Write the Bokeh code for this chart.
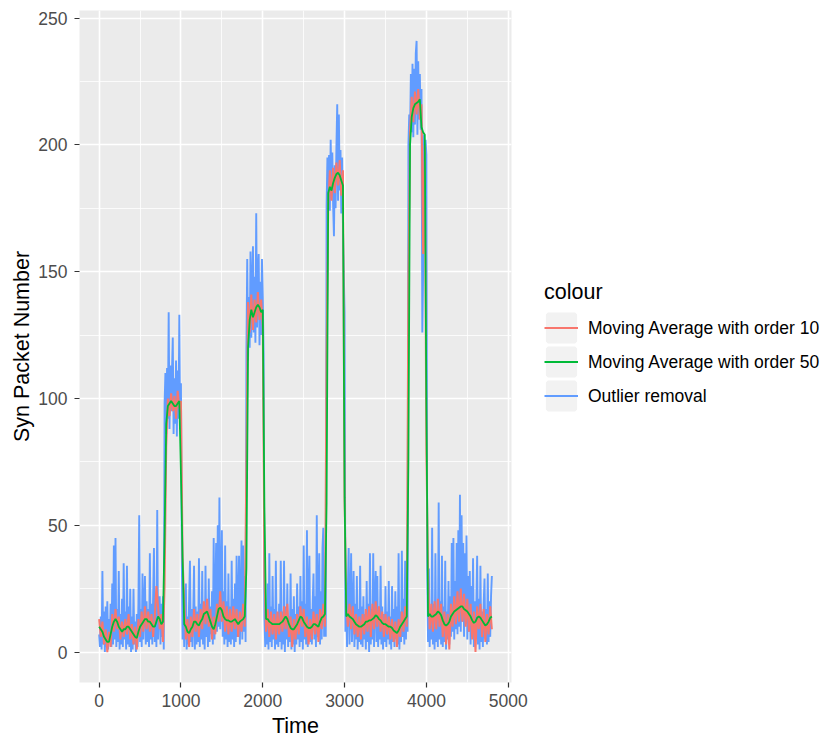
from bokeh.plotting import figure
from bokeh.models import Range1d, SingleIntervalTicker, Legend, LegendItem
from bokeh.embed import file_html
from bokeh.resources import INLINE

FONT = "Liberation Sans"

# Time stamps: filtered counts every 10 s, moving averages every 20 s
time_fine = list(range(0, 4801, 10))
time_ma = list(range(0, 4801, 20))

# SYN packet counts after outlier removal (one row = 200 s)
outlier_removal = [
    7, 2, 14, 1, 32, 3, 16, 0, 18, 2, 20, 1, 13, 4, 19, 2, 27, 3, 42, 5,
    45, 2, 17, 4, 32, 1, 15, 3, 21, 2, 35, 5, 16, 1, 34, 3, 18, 2, 25, 0,
    14, 1, 25, 3, 12, 0, 15, 2, 19, 54, 4, 17, 2, 31, 5, 18, 30, 3, 20, 4,
    17, 2, 39, 5, 19, 3, 22, 41, 4, 18, 2, 56, 5, 20, 22, 3, 19, 6, 22, 1,
    98, 110, 86, 112, 92, 134, 88, 113, 95, 110, 124, 86, 108, 90, 115, 85, 111, 92, 133, 88,
    106, 38, 5, 16, 2, 18, 27, 1, 14, 3, 21, 36, 4, 17, 2, 15, 34, 1, 18, 3,
    16, 4, 37, 2, 19, 5, 32, 3, 17, 1, 34, 6, 20, 2, 29, 4, 18, 7, 24, 3,
    45, 5, 22, 43, 8, 50, 10, 61, 9, 26, 48, 6, 24, 3, 42, 5, 20, 2, 31, 4,
    18, 3, 36, 5, 21, 2, 27, 4, 38, 6, 19, 38, 3, 22, 44, 5, 42, 8, 30, 4,
    118, 155, 115, 140, 120, 158, 124, 145, 160, 126, 148, 122, 173, 128, 150, 157, 121, 146, 125, 155,
    140, 118, 14, 2, 16, 3, 27, 1, 39, 4, 18, 2, 30, 5, 17, 1, 36, 3, 15, 2,
    19, 4, 36, 1, 16, 3, 36, 0, 18, 5, 27, 2, 14, 4, 31, 1, 17, 3, 22, 0,
    15, 3, 27, 5, 18, 2, 30, 4, 20, 1, 42, 5, 19, 3, 48, 2, 21, 38, 4, 17,
    3, 19, 31, 5, 22, 2, 54, 6, 20, 39, 3, 24, 5, 41, 49, 6, 26, 6, 176, 195,
    178, 196, 174, 202, 180, 197, 176, 164, 192, 175, 199, 216, 178, 212, 182, 198, 173, 195, 168, 150,
    134, 8, 20, 2, 25, 41, 3, 18, 39, 4, 16, 32, 2, 19, 5, 30, 1, 17, 4, 34,
    3, 18, 2, 22, 5, 15, 1, 28, 4, 19, 0, 39, 3, 17, 5, 39, 2, 20, 32, 4,
    30, 2, 17, 5, 34, 3, 18, 1, 15, 4, 26, 2, 16, 5, 28, 3, 14, 1, 26, 4,
    17, 2, 24, 5, 18, 3, 39, 1, 16, 4, 40, 6, 21, 3, 36, 5, 22, 8, 200, 212,
    203, 228, 205, 232, 203, 230, 208, 236, 241, 204, 233, 210, 228, 206, 222, 126, 150, 204, 196, 202,
    196, 32, 4, 33, 2, 17, 5, 49, 3, 19, 1, 39, 4, 16, 2, 59, 5, 20, 3, 38,
    2, 18, 4, 36, 1, 16, 5, 28, 3, 22, 6, 43, 8, 45, 5, 28, 9, 43, 7, 48,
    10, 62, 8, 54, 12, 43, 6, 39, 11, 46, 5, 30, 8, 32, 3, 26, 6, 37, 2, 20,
    5, 18, 38, 3, 21, 1, 34, 4, 16, 2, 19, 29, 5, 17, 3, 31, 4, 20, 6, 22,
    30,
]

# Moving average, order 10
ma_order_10 = [
    13, 6, 12, 3, 9, 0, 8, 2, 15, 8, 17, 9, 14, 5, 12, 6, 13, 7, 15, 5,
    11, 3, 10, 1, 13, 6, 16, 8, 18, 9, 16, 8, 15, 6, 14, 26, 18, 9, 15, 4,
    26, 81, 100, 93, 102, 95, 101, 92, 103, 96, 99,
    37, 20, 5, 13, 2, 14, 6, 17, 8, 15, 6, 17, 9, 20, 11, 21, 10, 17, 5, 14,
    7, 19, 12, 24, 12, 20, 8, 18, 7, 17, 8, 18, 9, 17, 6, 16, 8, 19, 10,
    76, 138, 126, 141, 127, 139, 130, 142, 131, 139, 128,
    30, 8, 17, 6, 16, 7, 15, 5, 16, 7, 16, 8, 18, 9, 19, 6, 14, 2, 13, 5,
    15, 7, 18, 10, 17, 6, 14, 3, 13, 5, 16, 7, 15, 4, 17, 9, 19, 10, 118,
    176, 190, 178, 191, 181, 193, 184, 194, 180, 190,
    60, 18, 10, 19, 9, 18, 7, 15, 6, 14, 5, 15, 7, 17, 8, 18, 6, 19, 9, 20,
    10, 18, 8, 16, 6, 15, 7, 14, 5, 13, 4, 12, 2, 13, 6, 16, 8, 18, 10, 147,
    205, 219, 209, 221, 212, 222, 210, 216, 157, 200, 78,
    30, 9, 19, 8, 20, 9, 21, 10, 19, 6, 16, 3, 15, 1, 19, 10, 22, 11, 24, 12,
    25, 12, 23, 10, 21, 8, 19, 5, 16, 0, 18, 9, 19, 6, 17, 4, 15, 7, 18, 9,
]

# Moving average, order 50
ma_order_50 = [
    10, 9, 8, 6, 5, 4, 4, 7, 10, 12, 13, 12, 10, 9, 8, 9, 9, 10, 10, 9,
    8, 7, 6, 5.5, 8, 10, 11, 12, 13, 13, 12, 12, 11, 10, 10, 12, 14, 13, 11, 12,
    46, 90, 97, 98, 99, 98, 97, 97, 98, 99, 70,
    37, 11, 10, 8, 7.5, 9, 10, 12, 12, 11, 10.5, 12, 13, 15, 15.5, 16, 14, 12, 10, 9,
    11, 14, 17, 17.5, 16.5, 14, 13, 12.5, 12.5, 12, 12, 12.5, 13, 12, 11, 12, 12.5, 13, 14,
    33, 120, 131, 135, 132, 134, 136, 137, 136, 134, 135,
    57, 13, 13, 12, 11.5, 11, 11, 11, 11, 11, 11.5, 12, 13, 14, 13, 11, 9.5, 9, 9, 10,
    11, 12.5, 14, 13.5, 12, 11, 10, 9.5, 9.5, 10, 11, 11, 10.5, 10, 12, 13.5, 14, 15, 59,
    181, 183.5, 182, 185, 187, 188.5, 189, 188, 186, 184,
    61, 14, 15, 14, 13.5, 13, 12, 11, 10.5, 10, 10, 10.5, 11, 12, 12, 12.5, 12.5, 13, 13.5, 14.5,
    14, 13, 12.5, 11.5, 11, 11, 10.5, 10, 10, 9.5, 8.5, 8, 7.5, 8.5, 10, 11, 12, 13, 14, 76,
    200, 211, 214.5, 216, 216.5, 217, 218, 207, 205, 204, 96,
    14, 15, 14, 14, 14.5, 15, 16, 15.5, 14.5, 12.5, 11, 10.5, 11, 12, 14, 15, 16, 16.5, 17, 17.5,
    18, 18, 17, 16.5, 16, 15, 14, 12.5, 11.5, 12, 13.5, 14, 13.5, 12.5, 11.5, 10.5, 11, 12, 13.5, 14,
]

series_labels = ["Moving Average with order 10", "Moving Average with order 50", "Outlier removal"]
series_colors = ["#F8766D", "#00BA38", "#619CFF"]

p = figure(
    frame_width=432, frame_height=672,
    output_backend="svg", toolbar_location=None,
    x_range=Range1d(-240, 5040), y_range=Range1d(-12, 253),
    min_border_left=79, min_border_right=313, min_border_top=10, min_border_bottom=58,
)
p.background_fill_color = "#EBEBEB"
p.border_fill_color = "white"
p.outline_line_color = None

p.xaxis.ticker = SingleIntervalTicker(interval=1000, num_minor_ticks=2)
p.yaxis.ticker = SingleIntervalTicker(interval=50, num_minor_ticks=2)

for grid in (p.xgrid[0], p.ygrid[0]):
    grid.grid_line_color = "white"
    grid.grid_line_width = 1.6
    grid.minor_grid_line_color = "white"
    grid.minor_grid_line_width = 0.8

for ax in (p.xaxis[0], p.yaxis[0]):
    ax.axis_line_color = None
    ax.major_tick_line_color = "#333333"
    ax.major_tick_line_width = 1.2
    ax.major_tick_out = 5
    ax.major_tick_in = 0
    ax.minor_tick_line_color = None
    ax.major_label_text_font = FONT
    ax.major_label_text_font_size = "17.5px"
    ax.major_label_text_color = "#4D4D4D"
    ax.axis_label_text_font = FONT
    ax.axis_label_text_font_size = "21.5px"
    ax.axis_label_text_font_style = "normal"
    ax.axis_label_text_color = "black"

p.xaxis.axis_label = "Time"
p.yaxis.axis_label = "Syn Packet Number"
p.xaxis.major_label_standoff = 6
p.yaxis.major_label_standoff = 7
p.xaxis.axis_label_standoff = 4
p.yaxis.axis_label_standoff = 1

r_blue = p.line(time_fine, outlier_removal, line_color=series_colors[2], line_width=1.9)
r_red = p.line(time_ma, ma_order_10, line_color=series_colors[0], line_width=2.0)
r_green = p.line(time_ma, ma_order_50, line_color=series_colors[1], line_width=1.8)

# grey key boxes behind the legend lines (no visible point in the plot area)
nan = float("nan")
key_box = p.rect(x=[nan], y=[nan], width=1, height=1,
                 fill_color="#F2F2F2", line_color="#F2F2F2", line_width=4)

legend = Legend(
    items=[
        LegendItem(label=series_labels[0], renderers=[key_box, r_red]),
        LegendItem(label=series_labels[1], renderers=[key_box, r_green]),
        LegendItem(label=series_labels[2], renderers=[key_box, r_blue]),
    ],
    title="colour",
    location="center_left",
    orientation="vertical",
    border_line_color=None,
    background_fill_alpha=0,
    glyph_width=34, glyph_height=34, spacing=0,
    label_standoff=10, padding=0, margin=33,
    title_text_font=FONT, title_text_font_size="21.5px", title_text_font_style="normal",
    title_text_color="black", title_standoff=6,
    label_text_font=FONT, label_text_font_size="17.5px", label_text_color="black",
)
p.add_layout(legend, "right")

open("out.html", "w").write(file_html(p, INLINE))
